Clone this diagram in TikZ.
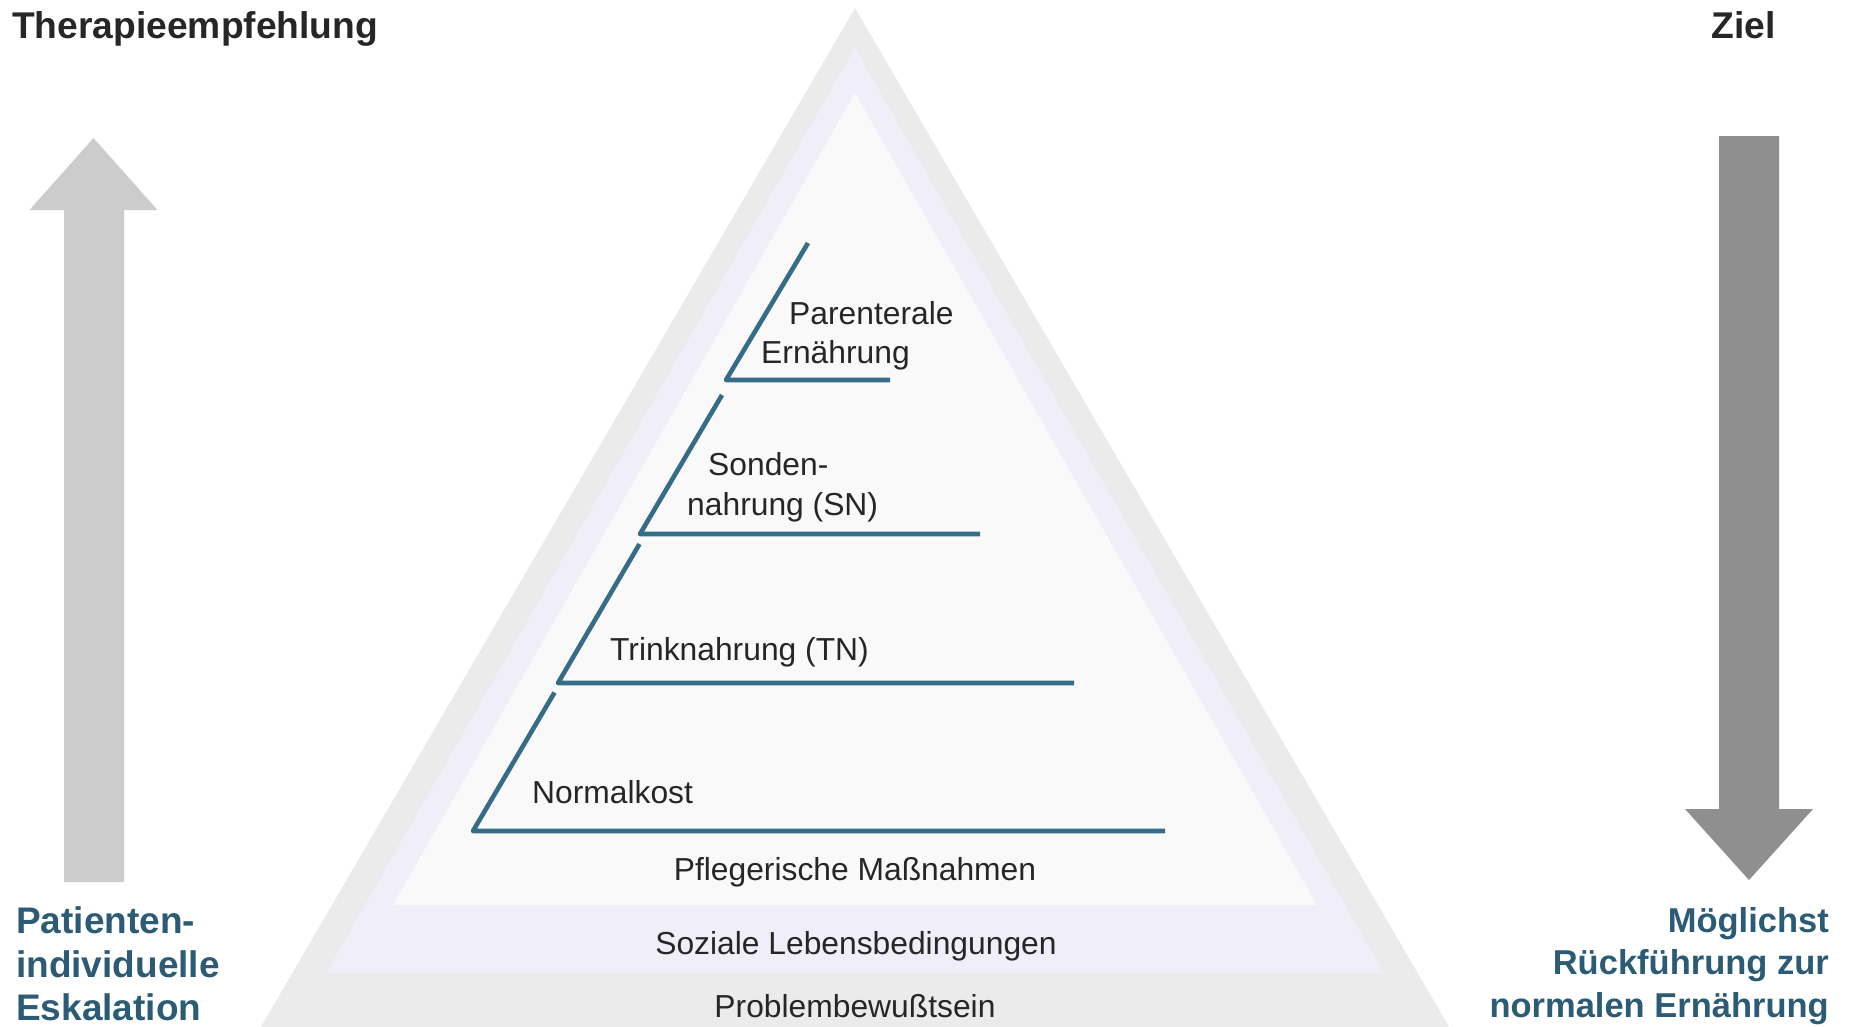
\documentclass[tikz,border=0pt]{standalone}
\usepackage{fontspec}
\setmainfont{Liberation Sans}
\definecolor{graybg}{HTML}{EBEBEB}
\definecolor{lavband}{HTML}{F0EEF8}
\definecolor{innerbg}{HTML}{F9F9F9}
\definecolor{lineblue}{HTML}{356C87}
\definecolor{textdark}{HTML}{262626}
\definecolor{bluetext}{HTML}{2C5B76}
\definecolor{arrowlight}{HTML}{CCCCCC}
\definecolor{arrowdark}{HTML}{8F8F8F}
\begin{document}
\begin{tikzpicture}[x=1pt,y=-1pt,
  stair/.style={draw=lineblue,line width=4.6pt,line join=round,line cap=butt},
  lbl/.style={anchor=base west,inner sep=0pt,text=textdark,font=\fontsize{31.8pt}{38pt}\selectfont},
  lblc/.style={anchor=base,inner sep=0pt,text=textdark,font=\fontsize{31.8pt}{38pt}\selectfont},
  title/.style={inner sep=0pt,text=textdark,font=\fontsize{37.2pt}{44pt}\selectfont\bfseries},
  bleft/.style={anchor=base west,inner sep=0pt,text=bluetext,font=\fontsize{37pt}{44pt}\selectfont\bfseries},
  bright/.style={anchor=base east,inner sep=0pt,text=bluetext,font=\fontsize{34.5pt}{42pt}\selectfont\bfseries}]
\useasboundingbox (0,0) rectangle (1850,1026);
\clip (0,0) rectangle (1850,1026);
\fill[white] (0,0) rectangle (1850,1026);
% pyramid bands
\fill[graybg] (855,8) -- (1491.6,1100) -- (218.4,1100) -- cycle;
\fill[lavband] (855,48) -- (1384,973) -- (326,973) -- cycle;
\fill[innerbg] (855,93) -- (1317,905) -- (393,905) -- cycle;
% stairs
\draw[stair] (808,243) -- (726,380) -- (890,380);
\draw[stair] (722,395) -- (640,534) -- (980,534);
\draw[stair] (639.5,544) -- (558,683) -- (1074,683);
\draw[stair] (554.5,692.5) -- (473,831) -- (1165,831);
% stair labels
\node[lbl] (pe1) at (789,324) {Parenterale};
\node[lbl] (pe2) at (761,363) {Ernährung};
\node[lbl] (sn1) at (708,475) {Sonden-};
\node[lbl] (sn2) at (687,515) {nahrung (SN)};
\node[lbl] (tn) at (610,660) {Trinknahrung (TN)};
\node[lbl] (nk) at (532,803) {Normalkost};
\node[lblc] (pm) at (855,880) {Pflegerische Maßnahmen};
\node[lblc] (sl) at (856,954) {Soziale Lebensbedingungen};
\node[lblc] (pb) at (855,1017) {Problembewußtsein};
% arrows
\fill[arrowlight] (64,882) -- (64,210) -- (29.5,210) -- (93.5,138) -- (157.5,210) -- (124,210) -- (124,882) -- cycle;
\fill[arrowdark] (1719,136) -- (1779,136) -- (1779,809) -- (1813,809) -- (1749,880) -- (1685,809) -- (1719,809) -- cycle;
% titles
\node[title,anchor=base west] (th) at (12,38) {Therapieempfehlung};
\node[title,anchor=base east] (zi) at (1776,38) {Ziel};
% left text
\node[bleft] (l1) at (16,933) {Patienten-};
\node[bleft] (l2) at (16,977) {individuelle};
\node[bleft] (l3) at (16,1020) {Eskalation};
% right text
\node[bright] (r1) at (1829,932) {Möglichst};
\node[bright] (r2) at (1829,974) {Rückführung zur};
\node[bright] (r3) at (1829,1017) {normalen Ernährung};
\end{tikzpicture}
\end{document}
